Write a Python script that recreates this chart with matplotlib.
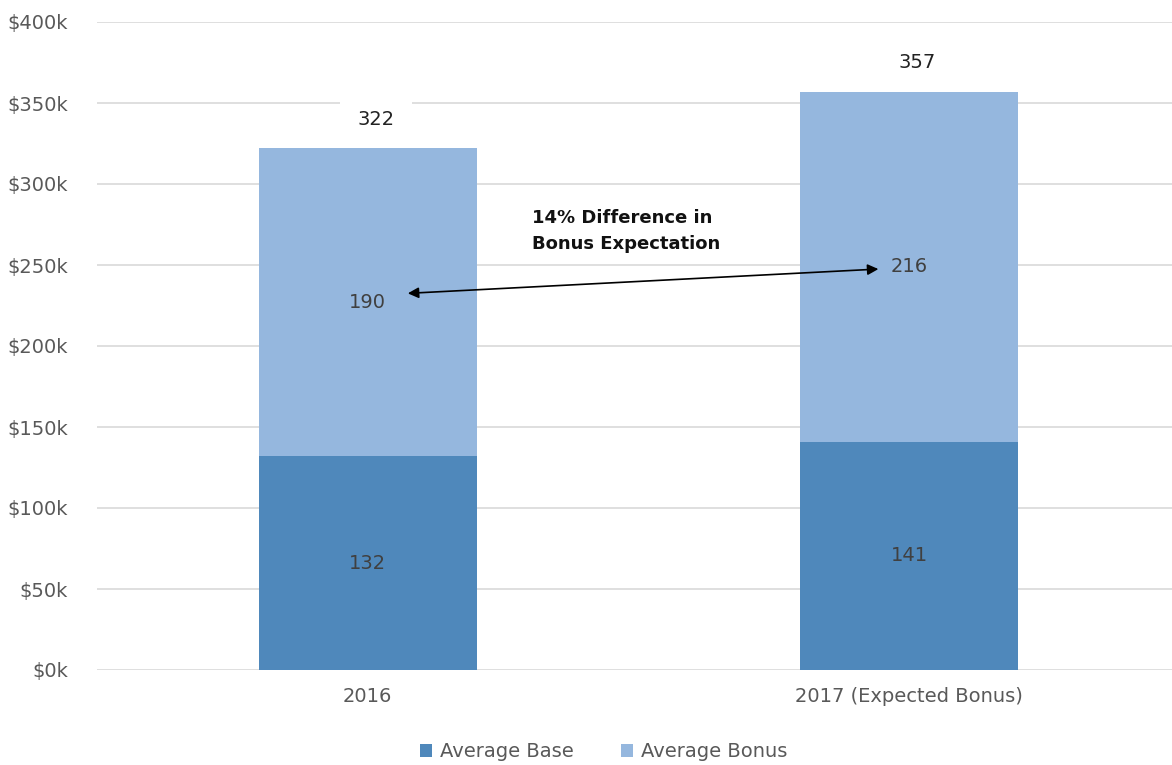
import matplotlib
matplotlib.use("Agg")
import matplotlib.pyplot as plt
from matplotlib.ticker import FuncFormatter

plt.rcParams['font.family'] = ['DejaVu Sans']

# data (thousands of $)
categories = ['2016', '2017 (Expected Bonus)']
avg_base = [132, 141]
avg_bonus = [190, 216]
totals = [b + s for b, s in zip(avg_base, avg_bonus)]

base_color = '#4f88bb'
bonus_color = '#95b7de'
text_color = '#595959'
fs = 14

fig = plt.figure(figsize=(11.72, 7.65), dpi=100)
ax = fig.add_axes([97 / 1172, 1 - 670 / 765, 1083 / 1172, 648 / 765])

x = list(range(len(categories)))
width = 0.403
ax.bar(x, avg_base, width, color=base_color, label='Average Base', zorder=3)
ax.bar(x, avg_bonus, width, bottom=avg_base, color=bonus_color, label='Average Bonus', zorder=3)

# segment labels
for i in x:
    ax.text(i, avg_base[i] / 2, str(avg_base[i]), ha='center', va='center',
            fontsize=fs, color='#404040', zorder=4)
    ax.text(i, avg_base[i] + avg_bonus[i] / 2, str(avg_bonus[i]), ha='center', va='center',
            fontsize=fs, color='#404040', zorder=4)
    # total on top, white box hides the gridline like excel
    ax.annotate(str(totals[i]), (i, totals[i]), xytext=(6, 21), textcoords='offset points',
                ha='center', va='center', fontsize=fs, color='#222222', zorder=4,
                bbox=dict(boxstyle='square,pad=0.9', fc='white', ec='none'))

# double arrow between the bonus values
ax.annotate('', xy=(0.074, 232.5), xytext=(0.943, 247.5),
            arrowprops=dict(arrowstyle='<|-|>', color='black', lw=1.2,
                            mutation_scale=16, shrinkA=0, shrinkB=0), zorder=5)
ax.text(0.303, 271, '14% Difference in\nBonus Expectation', ha='left', va='center',
        fontsize=13, fontweight='bold', color='#111111', linespacing=1.6, zorder=5)

ax.set_xlim(-0.5, 1.5)
ax.set_ylim(0, 400)
ax.set_yticks(range(0, 401, 50))
ax.yaxis.set_major_formatter(FuncFormatter(lambda v, p: f'${int(v)}k'))
ax.set_xticks(x)
ax.set_xticklabels(categories)
ax.tick_params(axis='both', length=0, labelsize=fs, colors=text_color)
ax.tick_params(axis='y', pad=21)
ax.tick_params(axis='x', pad=12)
ax.grid(axis='y', color='#d9d9d9', lw=1.2, zorder=0)
for s in ax.spines.values():
    s.set_visible(False)

fig.legend(loc='lower center', bbox_to_anchor=(0.515, -0.018), ncol=2, frameon=False,
           fontsize=fs, handlelength=0.65, handleheight=0.65, handletextpad=0.4,
           columnspacing=2.4, labelcolor=text_color)

fig.savefig('out.png', dpi=100)
